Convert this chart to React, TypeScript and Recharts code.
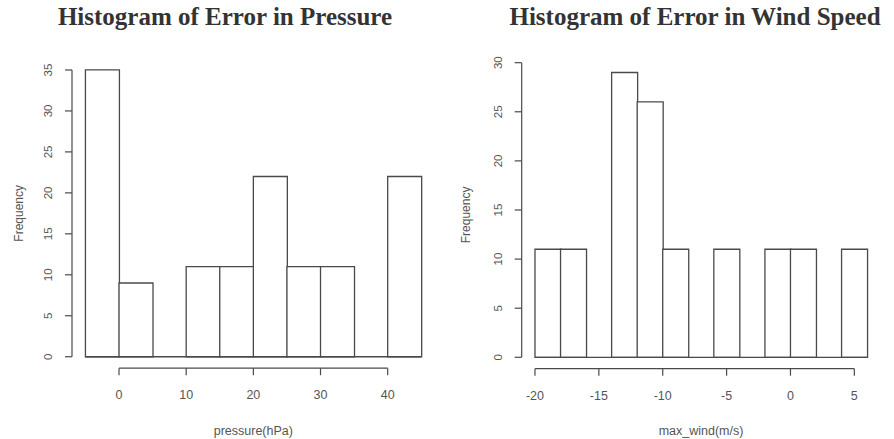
import { BarChart, Bar, XAxis, YAxis, ReferenceLine } from 'recharts'

// histogram bins (break points) and counts
const pressureBreaks = [-5, 0, 5, 10, 15, 20, 25, 30, 35, 40, 45]
const pressureCounts = [35, 9, 0, 11, 11, 22, 11, 11, 0, 22]
const pressureXTicks = [0, 10, 20, 30, 40]
const pressureYTicks = [0, 5, 10, 15, 20, 25, 30, 35]

const windBreaks = [-20, -18, -16, -14, -12, -10, -8, -6, -4, -2, 0, 2, 4, 6]
const windCounts = [11, 11, 0, 29, 26, 11, 0, 11, 0, 11, 11, 0, 11]
const windXTicks = [-20, -15, -10, -5, 0, 5]
const windYTicks = [0, 5, 10, 15, 20, 25, 30]

const INK = '#4a4a4a'
const SANS = '"Liberation Sans", Arial, sans-serif'

// R pads the plot region by 4% on each side
const extend = (lo: number, hi: number): [number, number] => {
  const d = (hi - lo) * 0.04
  return [lo - d, hi + d]
}

const XTick = (props: any) => {
  const { x, y, payload } = props
  return (
    <g>
      <line x1={x} y1={y} x2={x} y2={y + 7} stroke={INK} strokeWidth={1.2} />
      <text x={x} y={y + 31} textAnchor="middle" fontSize={12.5} fontFamily={SANS} fill="#555">
        {payload.value}
      </text>
    </g>
  )
}

const YTick = (props: any) => {
  const { x, y, payload } = props
  return (
    <g>
      <line x1={x - 7} y1={y} x2={x} y2={y} stroke={INK} strokeWidth={1.2} />
      <text
        x={x - 20}
        y={y}
        transform={`rotate(-90, ${x - 20}, ${y})`}
        textAnchor="middle"
        fontSize={11.5}
        fontFamily={SANS}
        fill="#555"
      >
        {payload.value}
      </text>
    </g>
  )
}

interface HistProps {
  breaks: number[]
  counts: number[]
  xTicks: number[]
  yTicks: number[]
  xLabel: string
  title: string
  titleX: number
  left: number
  plotLeft: number
  plotRight: number
  plotTop: number
  plotBottom: number
}

const W = 447
const H = 439

function Histogram({
  breaks, counts, xTicks, yTicks, xLabel, title, titleX,
  left, plotLeft, plotRight, plotTop, plotBottom,
}: HistProps) {
  const data = counts.map((c, i) => ({ mid: (breaks[i] + breaks[i + 1]) / 2, count: c }))
  const xDomain = extend(breaks[0], breaks[breaks.length - 1])
  const yMax = Math.max(...counts)
  const yDomain = extend(0, yMax)
  const yTop = yTicks[yTicks.length - 1]

  return (
    <div style={{ position: 'absolute', left, top: 0, width: W, height: H }}>
      <div
        style={{
          position: 'absolute',
          left: titleX,
          top: 3,
          transform: 'translateX(-50%)',
          whiteSpace: 'nowrap',
          fontFamily: '"Liberation Serif", "DejaVu Serif", serif',
          fontWeight: 'bold',
          fontSize: 25,
          color: '#333',
        }}
      >
        {title}
      </div>
      <BarChart
        width={W}
        height={H}
        data={data}
        margin={{ top: plotTop, right: W - plotRight, left: 0, bottom: 0 }}
        barCategoryGap={0}
        barGap={0}
      >
        <XAxis
          dataKey="mid"
          type="number"
          domain={xDomain}
          ticks={xTicks}
          interval={0}
          height={H - plotBottom}
          axisLine={false}
          tickLine={false}
          tickSize={0}
          tickMargin={0}
          tick={<XTick />}
          label={{
            value: xLabel,
            position: 'insideBottom',
            offset: 4,
            style: { fontSize: 12.5, fontFamily: SANS, fill: '#555' },
          }}
        />
        <YAxis
          type="number"
          domain={yDomain}
          ticks={yTicks}
          interval={0}
          width={plotLeft}
          axisLine={false}
          tickLine={false}
          tickSize={0}
          tickMargin={0}
          tick={<YTick />}
          label={{
            value: 'Frequency',
            angle: -90,
            position: 'insideLeft',
            offset: 19,
            style: { fontSize: 12, fontFamily: SANS, fill: '#555', textAnchor: 'middle' },
          }}
        />
        <ReferenceLine
          segment={[{ x: breaks[0], y: 0 }, { x: breaks[breaks.length - 1], y: 0 }]}
          stroke={INK}
          strokeWidth={1.3}
          ifOverflow="visible"
        />
        <Bar
          dataKey="count"
          fill="#fff"
          stroke={INK}
          strokeWidth={1.3}
          isAnimationActive={false}
        />
        <ReferenceLine
          segment={[{ x: xTicks[0], y: yDomain[0] }, { x: xTicks[xTicks.length - 1], y: yDomain[0] }]}
          stroke={INK}
          strokeWidth={1.2}
          ifOverflow="visible"
        />
        <ReferenceLine
          segment={[{ x: xDomain[0], y: 0 }, { x: xDomain[0], y: yTop }]}
          stroke={INK}
          strokeWidth={1.2}
          ifOverflow="visible"
        />
      </BarChart>
    </div>
  )
}

export default function App() {
  return (
    <div style={{ position: 'absolute', left: 0, top: 0, width: 894, height: 439, background: '#fff' }}>
      <Histogram
        breaks={pressureBreaks}
        counts={pressureCounts}
        xTicks={pressureXTicks}
        yTicks={pressureYTicks}
        xLabel="pressure(hPa)"
        title="Histogram of Error in Pressure"
        titleX={225}
        left={0}
        plotLeft={72}
        plotRight={434.7}
        plotTop={58.5}
        plotBottom={368.2}
      />
      <Histogram
        breaks={windBreaks}
        counts={windCounts}
        xTicks={windXTicks}
        yTicks={windYTicks}
        xLabel="max_wind(m/s)"
        title="Histogram of Error in Wind Speed"
        titleX={248}
        left={447}
        plotLeft={74.7}
        plotRight={433.4}
        plotTop={61.1}
        plotBottom={368.7}
      />
    </div>
  )
}
